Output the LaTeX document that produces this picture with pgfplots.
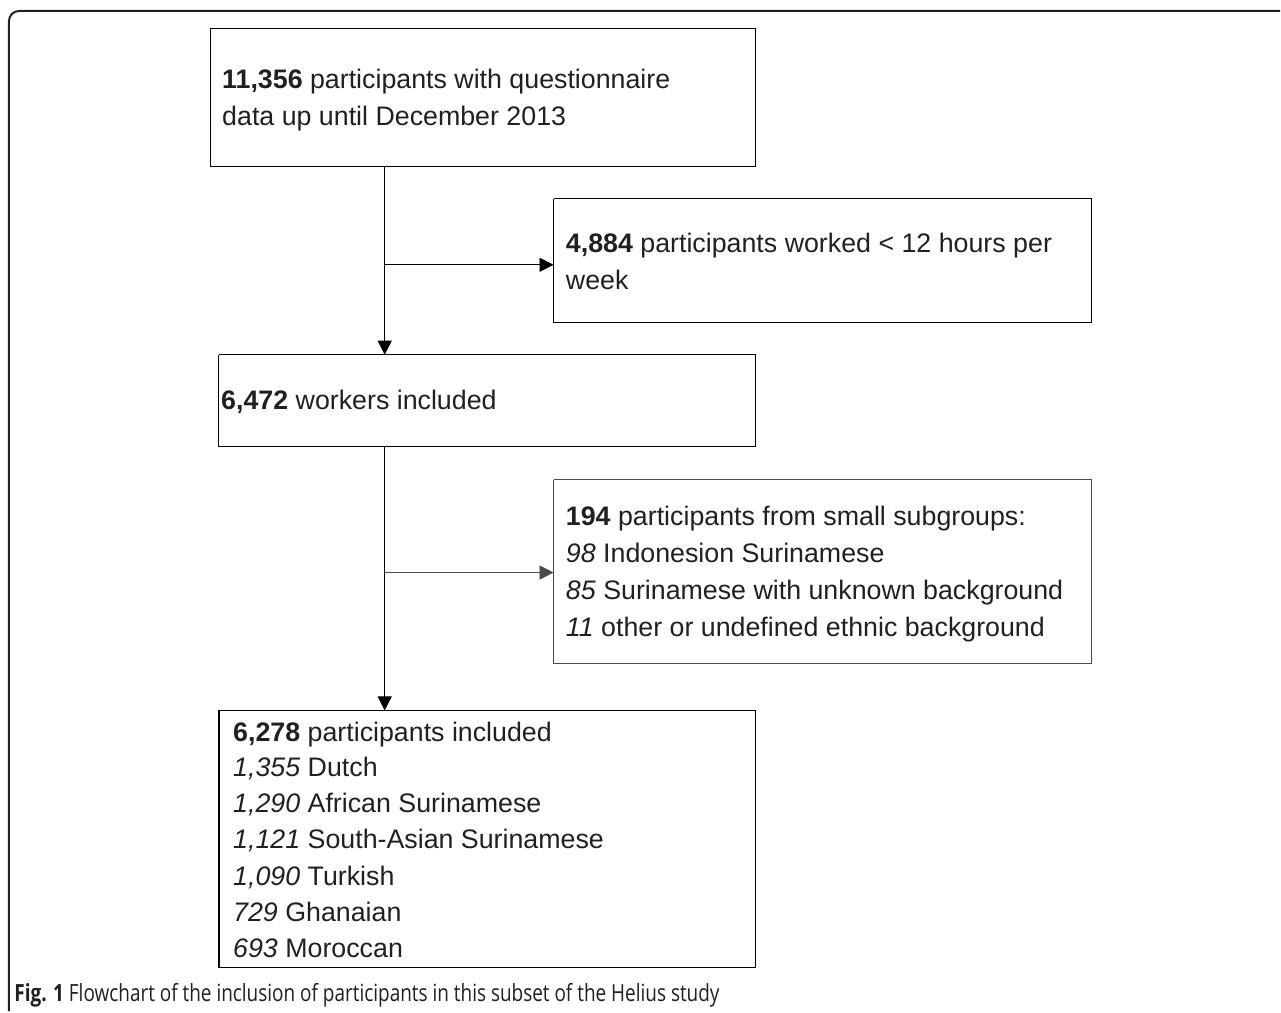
\documentclass[border=0pt]{standalone}
\usepackage{fontspec}
\setmainfont{Liberation Sans}
\newfontfamily\capfont[FakeStretch=0.8]{Open Sans}
\usepackage{pgfplots}
\pgfplotsset{compat=1.18}
\usetikzlibrary{arrows.meta}
\definecolor{ink}{HTML}{231F20}
\definecolor{edge}{HTML}{4A4A4A}
\tikzset{txt/.style={anchor=base west, inner sep=0pt, text=ink, font=\fontsize{13.4}{15}\selectfont}}

\begin{document}
\begin{tikzpicture}
\begin{axis}[
  width=640.5pt, height=506pt, scale only axis,
  xmin=0, xmax=1281, ymin=0, ymax=1012, y dir=reverse,
  hide axis, clip=false,
  cycle list={{draw=edge, line width=0.7pt, solid, mark=none, line join=miter}},
]
\addplot[draw=none] coordinates {(0,0) (1281,1012)};
% outer frame
\addplot[draw=ink, line width=1pt, rounded corners=5pt] coordinates {(9,1012) (9,11) (1281,11)};
% boxes
\addplot coordinates {(211,28) (756,28) (756,167) (211,167) (211,28)};
\addplot coordinates {(554,199) (1092,199) (1092,323) (554,323) (554,199)};
\addplot coordinates {(219,355) (756,355) (756,447) (219,447) (219,355)};
\addplot coordinates {(554,480) (1092,480) (1092,664) (554,664) (554,480)};
\addplot coordinates {(219,711) (756,711) (756,968) (219,968) (219,711)};
% connectors
\addplot+[-{Triangle[length=7pt,width=7pt]}, fill=ink] coordinates {(385,167) (385,355)};
\addplot+[-{Triangle[length=7pt,width=7pt]}, fill=ink] coordinates {(385,265) (554,265)};
\addplot+[-{Triangle[length=7pt,width=7pt]}, fill=ink] coordinates {(385,447) (385,711)};
\addplot+[-{Triangle[length=7pt,width=7pt]}, fill=ink] coordinates {(385,573) (554,573)};
% texts
\node[txt] at (222,89) {\textbf{11,356} participants with questionnaire};
\node[txt] at (222,126) {data up until December 2013};
\node[txt] at (566,253) {\textbf{4,884} participants worked < 12 hours per};
\node[txt] at (566,290) {week};
\node[txt] at (221,410) {\textbf{6,472} workers included};
\node[txt] at (566,526) {\textbf{194} participants from small subgroups:};
\node[txt] at (566,563) {\textit{98} Indonesion Surinamese};
\node[txt] at (566,600) {\textit{85} Surinamese with unknown background};
\node[txt] at (566,637) {\textit{11} other or undefined ethnic background};
\node[txt] at (233,742) {\textbf{6,278} participants included};
\node[txt] at (233,777) {\textit{1,355} Dutch};
\node[txt] at (233,813) {\textit{1,290} African Surinamese};
\node[txt] at (233,849) {\textit{1,121} South-Asian Surinamese};
\node[txt] at (233,886) {\textit{1,090} Turkish};
\node[txt] at (233,922) {\textit{729} Ghanaian};
\node[txt] at (233,958) {\textit{693} Moroccan};
\node[anchor=base west, inner sep=0pt, text=ink, font=\capfont\fontsize{11.85}{14}\selectfont] at (14,1002) {\textbf{Fig. 1} Flowchart of the inclusion of participants in this subset of the Helius study};
\end{axis}
\end{tikzpicture}
\end{document}
